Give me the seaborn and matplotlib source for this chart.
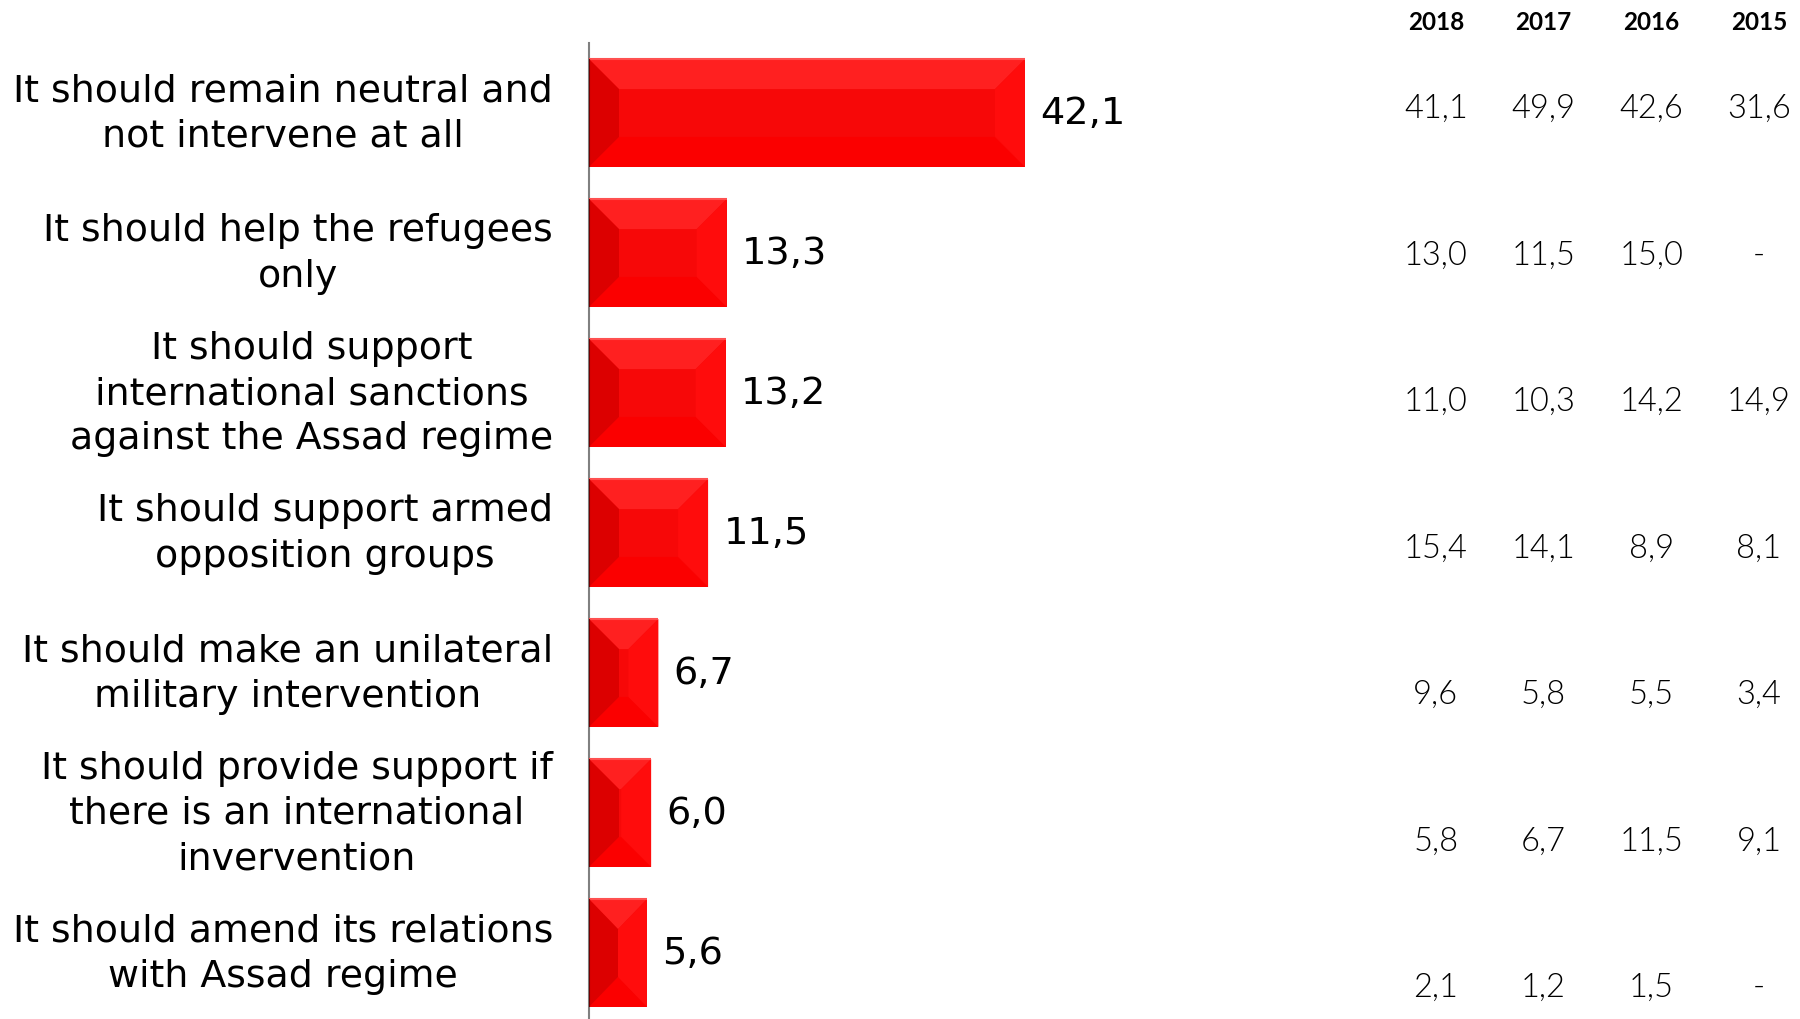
import numpy as np
import matplotlib
matplotlib.use('Agg')
import matplotlib.pyplot as plt
from matplotlib.patches import Polygon
import seaborn as sns

# answers (current survey) and earlier years
categories = [
    "It should remain neutral and\nnot intervene at all",
    "It should help the refugees\nonly",
    "It should support\ninternational sanctions\nagainst the Assad regime",
    "It should support armed\nopposition groups",
    "It should make an unilateral\nmilitary intervention",
    "It should provide support if\nthere is an international\ninvervention",
    "It should amend its relations\nwith Assad regime",
]
current = [42.1, 13.3, 13.2, 11.5, 6.7, 6.0, 5.6]

years = ["2018", "2017", "2016", "2015"]
y2018 = [41.1, 13.0, 11.0, 15.4, 9.6, 5.8, 2.1]
y2017 = [49.9, 11.5, 10.3, 14.1, 5.8, 6.7, 1.2]
y2016 = [42.6, 15.0, 14.2, 8.9, 5.5, 11.5, 1.5]
y2015 = [31.6, None, 14.9, 8.1, 3.4, 9.1, None]


def fmt(v):
    return "-" if v is None else f"{v:.1f}".replace(".", ",")


sns.set_style("white")
plt.rcParams['font.family'] = ['DejaVu Sans']

fig = plt.figure(figsize=(18, 10.2), dpi=100)
ax = fig.add_axes([589 / 1800, -4 / 1020, 611 / 1800, 980 / 1020])

sns.barplot(x=current, y=list(range(len(categories))), orient='h', color='#f70808',
            width=0.77, saturation=1, ax=ax)
ax.set_xlim(0, 59)
ax.set_ylim(6.5, -0.5)

# bevel overlay on each bar
ppx = 10.36   # px per unit x
ppy = 140.0   # px per category
for p in ax.patches:
    x0, y0, w, h = p.get_x(), p.get_y(), p.get_width(), p.get_height()
    bx = min(30 / ppx, w / 2)
    by = min(30 / ppy, h / 2)
    p.set_edgecolor('none')
    faces = [
        ([(x0, y0), (x0 + w, y0), (x0 + w - bx, y0 + by), (x0 + bx, y0 + by)], '#ff2020'),
        ([(x0, y0 + h), (x0 + w, y0 + h), (x0 + w - bx, y0 + h - by), (x0 + bx, y0 + h - by)], '#fb0000'),
        ([(x0, y0), (x0 + bx, y0 + by), (x0 + bx, y0 + h - by), (x0, y0 + h)], '#dc0000'),
        ([(x0 + w, y0), (x0 + w - bx, y0 + by), (x0 + w - bx, y0 + h - by), (x0 + w, y0 + h)], '#ff0c0c'),
    ]
    for pts, c in faces:
        ax.add_patch(Polygon(pts, closed=True, facecolor=c, edgecolor='none', zorder=3))
    ax.add_patch(Polygon([(x0, y0), (x0 + w, y0)], closed=False, fill=False,
                         edgecolor='#ff5050', lw=1.5, zorder=4))
    ax.add_patch(Polygon([(x0, y0), (x0, y0 + h)], closed=False, fill=False,
                         edgecolor='#700000', lw=1.5, zorder=4))

ax.bar_label(ax.containers[0], labels=[fmt(v) for v in current], padding=11,
             fontsize=27.5, color='black')

ax.set_yticks(range(len(categories)))
ax.set_yticklabels(categories, fontsize=27.3, color='black', linespacing=1.33)
for lbl in ax.get_yticklabels():
    lbl.set_multialignment('center')
    lbl.set_verticalalignment('center')
ax.set_yticks(np.arange(-0.5, len(categories) + 0.5, 1), minor=True)
ax.tick_params(axis='y', which='major', length=0, pad=26)
ax.tick_params(axis='y', which='minor', length=8, width=1.5, color='#808080')
ax.set_xticks([])
for s in ['top', 'right', 'bottom']:
    ax.spines[s].set_visible(False)
ax.spines['left'].set_color('#808080')
ax.spines['left'].set_linewidth(1.5)
ax.set_xlabel('')
ax.set_ylabel('')

# table of previous years
ax_t = fig.add_axes([1382 / 1800, 0, 418 / 1800, 1])
col_w = 107.7
ax_t.set_xlim(-0.5, -0.5 + 418 / col_w)
row_h = 146.5
ax_t.set_ylim((1020 - 109) / row_h, -109 / row_h)
ax_t.axis('off')

series = [y2018, y2017, y2016, y2015]
for j, (yr, vals) in enumerate(zip(years, series)):
    ax_t.text(j, -86 / row_h, yr, ha='center', va='center', fontsize=17.5,
              fontweight='bold', family=['Lato', 'DejaVu Sans'], color='black')
    for i, v in enumerate(vals):
        ax_t.text(j, i, fmt(v), ha='center', va='center', fontsize=23.5,
                  fontweight=300, family=['Lato', 'DejaVu Sans'], color='black')

plt.savefig('out.png', dpi=100)
